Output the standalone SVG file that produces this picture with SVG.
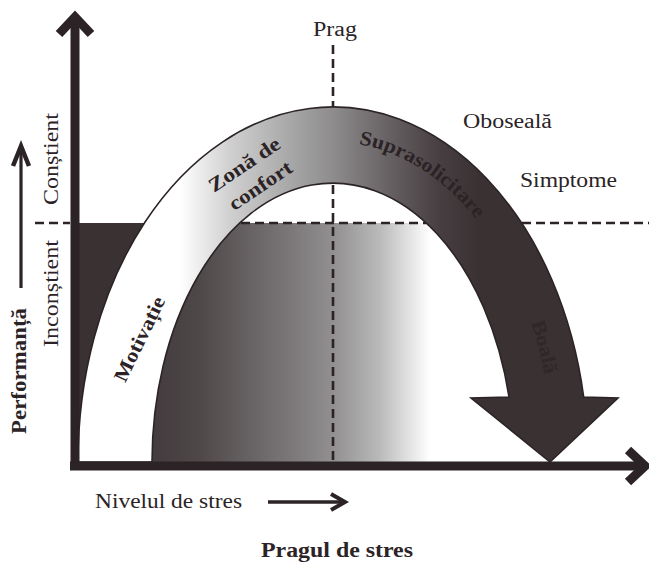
<svg xmlns="http://www.w3.org/2000/svg" width="649" height="566" viewBox="0 0 649 566">
<style>
.ax{fill:none;stroke:#2b2326;stroke-width:9;stroke-linejoin:miter}
.dash{fill:none;stroke:#2b2326;stroke-width:2.6;stroke-dasharray:9 5}
.lbl{font-family:"Liberation Serif","Times New Roman",serif;fill:#2b2326;font-size:20px}
.b{font-weight:bold}
</style>
<defs>
<linearGradient id="gBand" gradientUnits="userSpaceOnUse" x1="78" y1="0" x2="620" y2="0">
<stop offset="0" stop-color="#ffffff"/>
<stop offset="0.188" stop-color="#ffffff"/>
<stop offset="0.28" stop-color="#d0d0d0"/>
<stop offset="0.39" stop-color="#a8a8a8"/>
<stop offset="0.47" stop-color="#8e8c8d"/>
<stop offset="0.576" stop-color="#666062"/>
<stop offset="0.668" stop-color="#463e40"/>
<stop offset="0.74" stop-color="#3a3133"/>
<stop offset="1" stop-color="#3a3133"/>
</linearGradient>
<linearGradient id="gDome" gradientUnits="userSpaceOnUse" x1="152" y1="0" x2="430" y2="0">
<stop offset="0" stop-color="#433b3d"/>
<stop offset="0.17" stop-color="#4e4849"/>
<stop offset="0.39" stop-color="#6c6768"/>
<stop offset="0.65" stop-color="#918f90"/>
<stop offset="0.82" stop-color="#bababa"/>
<stop offset="0.95" stop-color="#ececec"/>
<stop offset="1" stop-color="#ffffff"/>
</linearGradient>
<path id="arcText" d="M333,142 A220 320 0 0 1 553,462"/>
</defs>

<g id="unconscious-zone">
<path d="M74,223 L144.4,223 A255 355 0 0 0 78,462 L74,462 Z" fill="#3a3133"/>
</g>

<g id="comfort-dome">
<path d="M239.6,223 L426.4,223 A181 279 0 0 1 514,462 L152,462 A181 279 0 0 1 239.6,223 Z" fill="url(#gDome)"/>
</g>

<g id="connectors">
<path class="dash" d="M35,223 H70 M241,223 H426 M522,223 H649"/>
<path class="dash" d="M333,45 V106 M333,185 V462"/>
</g>

<g id="performance-band">
<path d="M78,462 A255 355 0 0 1 583.7,397 L618,398 L550,462 L471,398 L509,397 A181 279 0 0 0 152,462 Z" fill="url(#gBand)" stroke="#2b2326" stroke-width="1.6" stroke-linejoin="miter"/>
<text class="lbl b" font-size="17" fill="#2a2224"><textPath href="#arcText" startOffset="26" textLength="142" lengthAdjust="spacingAndGlyphs">Suprasolicitare</textPath></text>
<text class="lbl b" font-size="18" fill="#2a2224" opacity="0.7"><textPath href="#arcText" startOffset="286" textLength="54" lengthAdjust="spacingAndGlyphs">Boală</textPath></text>
</g>

<g id="axes">
<path class="ax" d="M75,462 V18"/>
<path class="ax" d="M59,34 L75,17 L91,34"/>
<path class="ax" d="M70,466 H640"/>
<path class="ax" d="M628,450 L645,466 L628,482"/>
</g>

<g id="performance-arrow">
<path d="M21,288 V150" fill="none" stroke="#2b2326" stroke-width="3.2"/>
<path d="M13,166 L21,146 L29,166" fill="none" stroke="#2b2326" stroke-width="4.5"/>
</g>

<g id="stress-arrow">
<path d="M268,502 H343" fill="none" stroke="#2b2326" stroke-width="3.5"/>
<path d="M331,494 L345,502 L331,510" fill="none" stroke="#2b2326" stroke-width="4"/>
</g>

<g id="labels">
<text class="lbl" x="313" y="36" font-size="20" textLength="44" lengthAdjust="spacingAndGlyphs">Prag</text>
<text class="lbl" x="463" y="128" font-size="21" textLength="89" lengthAdjust="spacingAndGlyphs">Oboseală</text>
<text class="lbl" x="520" y="187" font-size="21" textLength="97" lengthAdjust="spacingAndGlyphs">Simptome</text>
<text class="lbl" x="95" y="508" font-size="20" textLength="147" lengthAdjust="spacingAndGlyphs">Nivelul de stres</text>
<text class="lbl b" x="261" y="557" font-size="20" textLength="152" lengthAdjust="spacingAndGlyphs">Pragul de stres</text>
<text class="lbl" transform="translate(58,205) rotate(-90)" font-size="20" textLength="92" lengthAdjust="spacingAndGlyphs">Conștient</text>
<text class="lbl" transform="translate(58,347) rotate(-90)" font-size="20" textLength="107" lengthAdjust="spacingAndGlyphs">Inconștient</text>
<text class="lbl b" transform="translate(26,434) rotate(-90)" font-size="20" textLength="126" lengthAdjust="spacingAndGlyphs">Performanță</text>
<text class="lbl b" transform="translate(145.5,342) rotate(-64)" text-anchor="middle" font-size="19" textLength="92" lengthAdjust="spacingAndGlyphs">Motivație</text>
<text class="lbl b" transform="translate(248,170) rotate(-34)" text-anchor="middle" font-size="19" textLength="82" lengthAdjust="spacingAndGlyphs">Zonă de</text>
<text class="lbl b" transform="translate(264,191) rotate(-34)" text-anchor="middle" font-size="19" textLength="72" lengthAdjust="spacingAndGlyphs">confort</text>
</g>
</svg>
